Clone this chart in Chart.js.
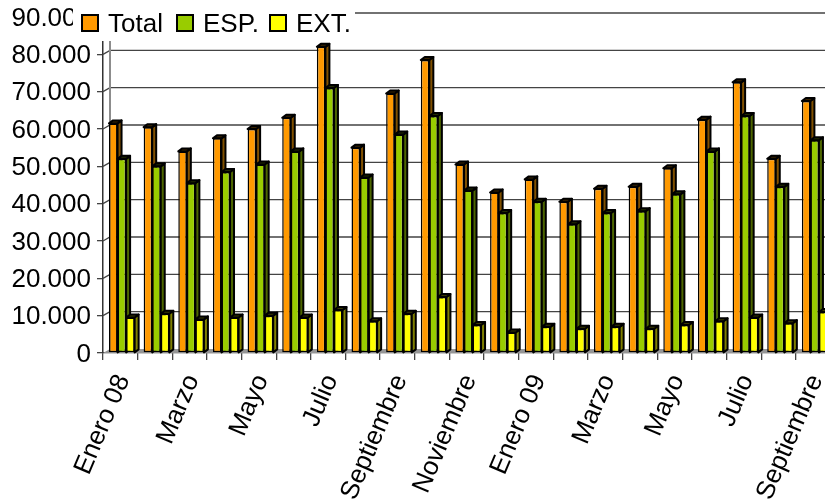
<!DOCTYPE html>
<html>
<head>
<meta charset="utf-8">
<style>
html, body { margin: 0; padding: 0; background: #fff; overflow: hidden; width: 825px; height: 500px; }
canvas { display: block; }
</style>
<script src="https://cdn.jsdelivr.net/npm/chart.js@4"></script>
</head>
<body>
<canvas id="chart" width="840" height="500"></canvas>
<script>
const categories = ['Enero 08', 'Febrero', 'Marzo', 'Abril', 'Mayo', 'Junio', 'Julio', 'Agosto', 'Septiembre', 'Octubre', 'Noviembre', 'Diciembre',
    'Enero 09', 'Febrero', 'Marzo', 'Abril', 'Mayo', 'Junio', 'Julio', 'Agosto', 'Septiembre'];
const total = [61500, 60500, 54000, 57500, 60000, 63000, 82000, 55000, 69500, 78500, 50500, 43000, 46500, 40500, 44000, 44500, 49500, 62500, 72500, 52000, 67500];
const esp = [52000, 50000, 45500, 48500, 50500, 54000, 71000, 47000, 58500, 63500, 43500, 37500, 40500, 34500, 37500, 38000, 42500, 54000, 63500, 44500, 57000];
const ext = [9500, 10500, 9000, 9500, 10000, 9500, 11500, 8500, 10500, 15000, 7500, 5500, 7000, 6500, 7000, 6500, 7500, 8500, 9500, 8000, 11000];
const yTickLabels = ['0', '10.000', '20.000', '30.000', '40.000', '50.000', '60.000', '70.000', '80.000', '90.000'];
const seriesLabels = ['Total', 'ESP.', 'EXT.'];
const seriesColors = ['#ff9900', '#99cc00', '#ffff00'];
const sideColors = ['#805000', '#4d6600', '#808000'];
const topColors = ['#3a2400', '#222c00', '#3a3a00'];
const legendSwatchX = [82, 177, 270];

const FONT = '"Liberation Sans", Arial, sans-serif';
const WALL_DX = 7, WALL_DY = 4;   // offset of back wall
const BAR_DX = 4, BAR_DY = 3;     // depth of the columns
const BAR_SHIFT = 1.5;            // columns sit a bit right of the category centre

// fake 3D: floor, back wall and grid behind, then columns drawn Total -> EXT
const fake3d = {
    id: 'fake3d',
    beforeDatasetsDraw(chart) {
        const { ctx, chartArea, scales } = chart;
        const y = scales.y;
        const left = chartArea.left, right = chartArea.right, bottom = chartArea.bottom;

        ctx.save();
        ctx.fillStyle = '#969696';
        ctx.beginPath();
        ctx.moveTo(left, bottom);
        ctx.lineTo(left + WALL_DX, bottom - WALL_DY);
        ctx.lineTo(right + WALL_DX, bottom - WALL_DY);
        ctx.lineTo(right, bottom);
        ctx.closePath();
        ctx.fill();

        ctx.strokeStyle = '#444';
        ctx.lineWidth = 1.3;
        y.ticks.forEach(t => {
            const py = y.getPixelForValue(t.value);
            if (t.value === 0) return;
            ctx.beginPath();
            ctx.moveTo(left, py);
            ctx.lineTo(left + WALL_DX, py - WALL_DY);
            ctx.lineTo(right + WALL_DX, py - WALL_DY);
            ctx.stroke();
        });

        ctx.strokeStyle = '#8c8c8c';
        ctx.lineWidth = 2;
        ctx.beginPath();
        ctx.moveTo(left + WALL_DX, bottom - WALL_DY);
        ctx.lineTo(left + WALL_DX, chartArea.top - WALL_DY);
        ctx.stroke();

        ctx.translate(BAR_SHIFT, 0);
        chart.data.datasets.forEach((ds, i) => {
            chart.getDatasetMeta(i).data.forEach(bar => {
                const r = bar.x + bar.width / 2;
                const l = bar.x - bar.width / 2;
                ctx.lineWidth = 2;
                ctx.lineJoin = 'round';
                ctx.strokeStyle = '#000';
                ctx.fillStyle = sideColors[i];
                ctx.beginPath();
                ctx.moveTo(r, bar.y);
                ctx.lineTo(r + BAR_DX, bar.y - BAR_DY);
                ctx.lineTo(r + BAR_DX, bar.base - BAR_DY);
                ctx.lineTo(r, bar.base);
                ctx.closePath();
                ctx.fill();
                ctx.stroke();
                ctx.fillStyle = topColors[i];
                ctx.beginPath();
                ctx.moveTo(l, bar.y);
                ctx.lineTo(l + BAR_DX, bar.y - BAR_DY);
                ctx.lineTo(r + BAR_DX, bar.y - BAR_DY);
                ctx.lineTo(r, bar.y);
                ctx.closePath();
                ctx.fill();
                ctx.stroke();
                bar.draw(ctx);
            });
        });
        ctx.restore();
        return false;
    },
    afterDraw(chart) {
        const { ctx } = chart;
        ctx.save();
        // legend sits on top of the plot and hides what's behind it
        ctx.fillStyle = '#fff';
        ctx.fillRect(73, 0, 282, 41);
        ctx.font = '26px ' + FONT;
        ctx.textBaseline = 'alphabetic';
        seriesLabels.forEach((label, i) => {
            ctx.fillStyle = seriesColors[i];
            ctx.strokeStyle = '#000';
            ctx.lineWidth = 2;
            ctx.fillRect(legendSwatchX[i], 15, 16, 16);
            ctx.strokeRect(legendSwatchX[i], 15, 16, 16);
            ctx.fillStyle = '#000';
            ctx.fillText(label, legendSwatchX[i] + 26, 32);
        });
        ctx.restore();
    }
};

new Chart(document.getElementById('chart'), {
    type: 'bar',
    data: {
        labels: categories,
        datasets: [
            { label: seriesLabels[0], data: total, backgroundColor: seriesColors[0] },
            { label: seriesLabels[1], data: esp, backgroundColor: seriesColors[1] },
            { label: seriesLabels[2], data: ext, backgroundColor: seriesColors[2] }
        ]
    },
    options: {
        responsive: false,
        animation: false,
        layout: { padding: { top: 17, right: 9.5, left: 0, bottom: 0 } },
        datasets: {
            bar: {
                categoryPercentage: 0.74,
                barPercentage: 1,
                borderColor: '#000',
                borderWidth: 1.5,
                borderSkipped: false
            }
        },
        plugins: { legend: { display: false }, tooltip: { enabled: false } },
        scales: {
            x: {
                afterFit(scale) { scale.height = 147; scale.paddingLeft = 0; scale.paddingRight = 0; },
                grid: { drawOnChartArea: false, tickLength: 7, color: '#444', lineWidth: 1.3, offset: true },
                border: { color: '#333', width: 1.3 },
                ticks: {
                    autoSkip: false,
                    minRotation: 67,
                    maxRotation: 67,
                    padding: 10,
                    labelOffset: 3,
                    color: '#000',
                    font: { family: FONT, size: 26 },
                    callback(value, index) { return index % 2 === 0 ? this.getLabelForValue(value) : ''; }
                }
            },
            y: {
                min: 0,
                max: 90000,
                afterFit(scale) { scale.width = 103; scale.paddingTop = 0; scale.paddingBottom = 0; },
                grid: { drawOnChartArea: false, tickLength: 6, color: '#444', lineWidth: 1.3 },
                border: { color: '#333', width: 1.5 },
                ticks: {
                    stepSize: 10000,
                    padding: 6,
                    labelOffset: 1.5,
                    color: '#000',
                    font: { family: FONT, size: 26 },
                    callback(value) { return yTickLabels[value / 10000]; }
                }
            }
        }
    },
    plugins: [fake3d]
});
</script>
</body>
</html>
